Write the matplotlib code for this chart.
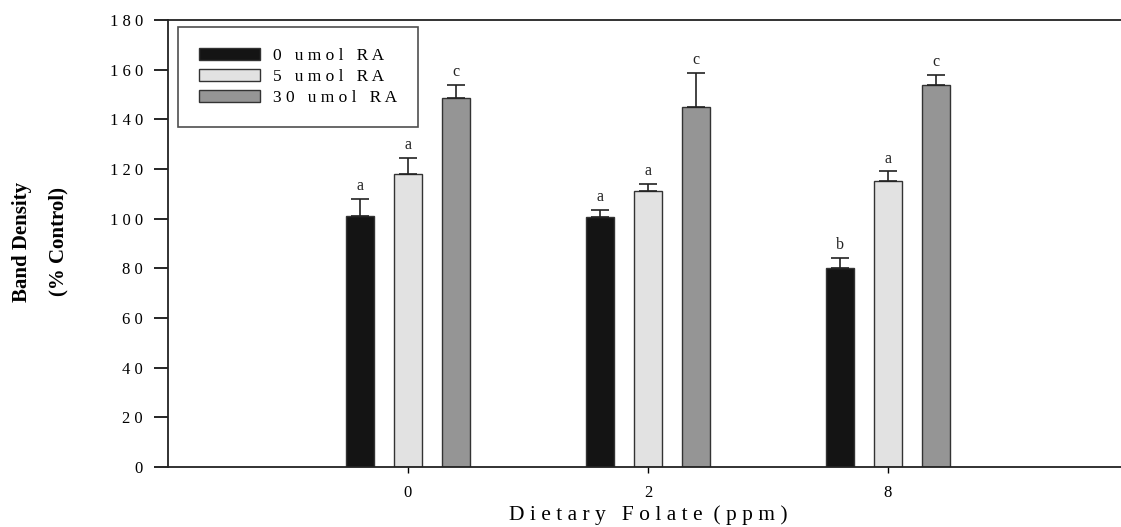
import matplotlib
matplotlib.use("Agg")
import matplotlib.pyplot as plt
import numpy as np

groups = ["0", "2", "8"]
series = ["0 umol RA", "5 umol RA", "30 umol RA"]
values = [
    [101, 100.5, 80],     # 0 umol RA
    [118, 111, 115],      # 5 umol RA
    [148.5, 145, 154],    # 30 umol RA
]
errors = [
    [7, 3, 4],
    [6.5, 3, 4],
    [5.5, 13.5, 4],
]
letters = [
    ["a", "a", "b"],
    ["a", "a", "a"],
    ["c", "c", "c"],
]
yticks = [0, 20, 40, 60, 80, 100, 120, 140, 160, 180]

colors = ["#141414", "#e2e2e2", "#959595"]
serif = "Liberation Serif"

def spaced(s):
    return " ".join(list(s))

W, H = 1121, 527
fig = plt.figure(figsize=(W / 100, H / 100), dpi=100)
ax = fig.add_axes([168 / W, (H - 467) / H, 960 / W, 447 / H])

x = np.arange(len(groups))
offsets = [-0.2, 0.0, 0.2]
width = 0.12
handles = []
for i, s in enumerate(series):
    b = ax.bar(x + offsets[i], values[i], width, color=colors[i],
               edgecolor="#333333", linewidth=1.0, label=s, zorder=2)
    handles.append(b)
    ax.errorbar(x + offsets[i], values[i], yerr=[np.zeros(3), errors[i]],
                fmt="none", ecolor="#222222", elinewidth=1.2, capsize=6.5,
                capthick=1.2, zorder=3)
    for j in range(len(groups)):
        ax.text(x[j] + offsets[i], values[i][j] + errors[i][j] + 2.0,
                letters[i][j], ha="center", va="bottom",
                fontsize=11.5, family=serif, color="#222222")

ax.set_xlim(-1, 3)
ax.set_ylim(0, 180)
ax.set_xticks(x)
ax.set_xticklabels(groups, family=serif, fontsize=12)
ax.set_yticks(yticks)
ax.set_yticklabels([spaced(str(t)) for t in yticks], family=serif, fontsize=12)
ax.tick_params(axis="y", direction="out", length=10, width=1.2, pad=8)
ax.tick_params(axis="x", direction="out", length=4, width=1.0, pad=9)

for sp in ["left", "bottom", "top"]:
    ax.spines[sp].set_linewidth(1.3)
    ax.spines[sp].set_color("#222222")
ax.spines["right"].set_visible(False)

ax.set_xlabel(spaced("Dietary") + "   " + spaced("Folate") + "  " + spaced("(ppm)"),
              family=serif, fontsize=15.5, labelpad=3)

fig.text(22 / W, 1 - 242 / H, "Band Density", family=serif, fontsize=15,
         fontweight="bold", rotation=90, ha="center", va="center")
fig.text(58 / W, 1 - 242 / H, "(% Control)", family=serif, fontsize=15,
         fontweight="bold", rotation=90, ha="center", va="center")

leg = ax.legend(handles, [spaced(s) for s in series],
                loc="upper left", bbox_to_anchor=(10 / 960, 1 - 7 / 447),
                borderaxespad=0, frameon=True,
                fancybox=False, edgecolor="#222222", handlelength=3.5,
                handleheight=0.65, handletextpad=0.8, borderpad=1.2,
                labelspacing=0.3, prop={"family": serif, "size": 12.5})
leg.get_frame().set_linewidth(1.2)

fig.savefig("out.png", dpi=100)
